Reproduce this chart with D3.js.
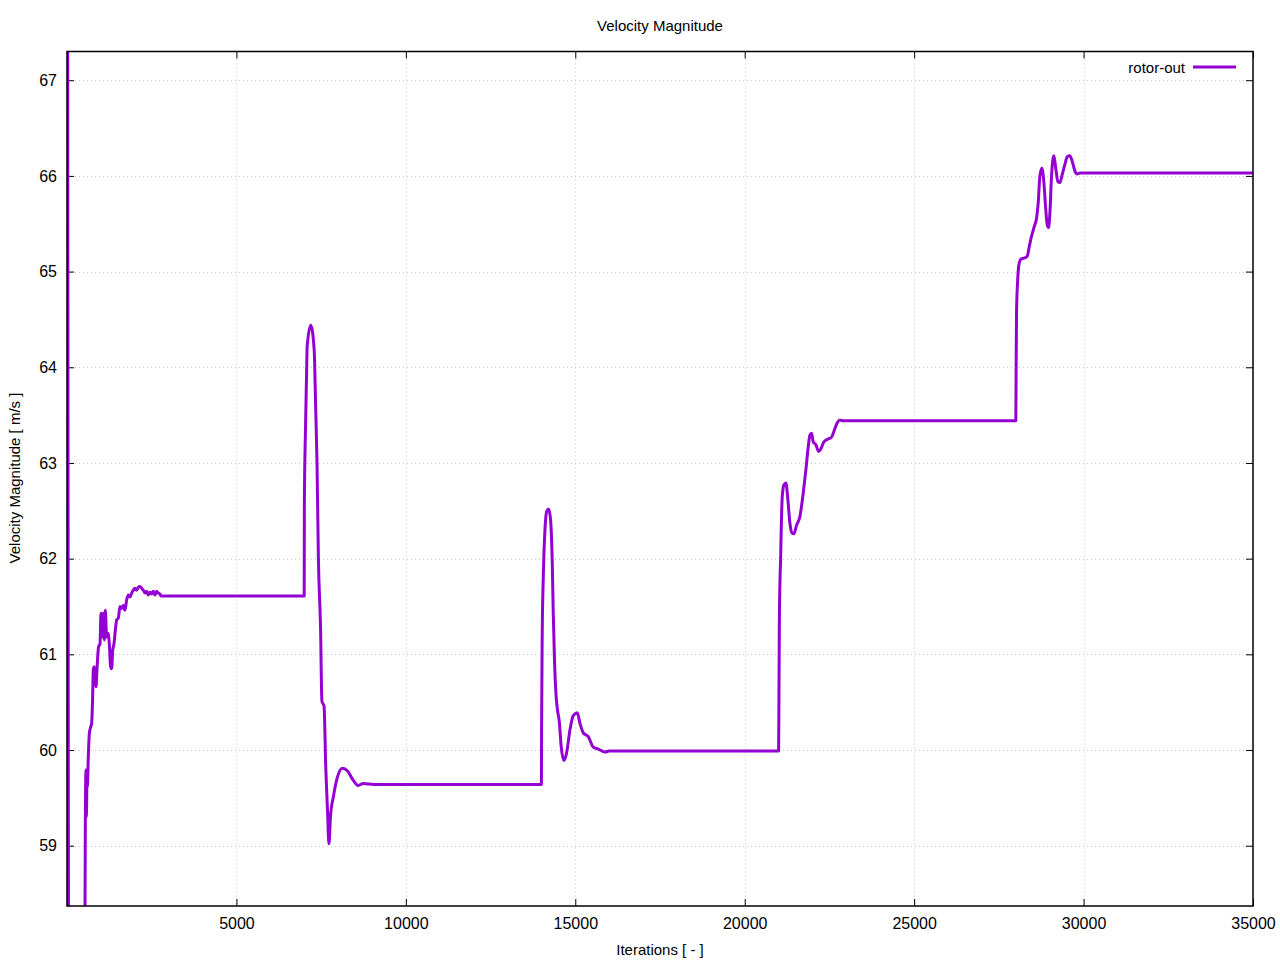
<!DOCTYPE html>
<html>
<head>
<meta charset="utf-8">
<script src="https://cdn.jsdelivr.net/npm/d3@7"></script>
<style>
  body { margin: 0; background: #fff; }
  svg { display: block; font-family: "Liberation Sans", Arial, sans-serif; }
</style>
</head>
<body>
<svg id="chart" width="1280" height="960"></svg>
<script>
// ---- data ----
const title = "Velocity Magnitude";
const xLabel = "Iterations [ - ]";
const yLabel = "Velocity Magnitude [ m/s ]";
const seriesName = "rotor-out";
const xTicks = [5000, 10000, 15000, 20000, 25000, 30000, 35000];
const yTicks = [59, 60, 61, 62, 63, 64, 65, 66, 67];

const iterations = [
  1, 40, 60, 520, 531, 541, 561, 570, 580, 590, 600, 629, 659, 698, 728, 757, 777, 806, 836, 856, 885, 905,
  934, 974, 1003, 1033, 1072, 1102, 1131, 1170, 1210, 1249, 1288, 1318, 1348, 1387, 1426, 1466, 1515, 1564,
  1613, 1662, 1711, 1761, 1810, 1859, 1908, 1957, 2006, 2056, 2105, 2154, 2203, 2252, 2301, 2351, 2400,
  2449, 2498, 2547, 2597, 2646, 2695, 2744, 2774, 7000,
  7005, 7037, 7068, 7088, 7192, 7295, 7337, 7378, 7420, 7482, 7523, 7585, 7637, 7690, 7730, 7775, 7865,
  7968, 8125, 8279, 8435, 8589, 8745, 9055, 14000,
  14005, 14026, 14056, 14105, 14154, 14213, 14272, 14321, 14350, 14390, 14429, 14478, 14527, 14586, 14665,
  14744, 14842, 14940, 15058, 15137, 15235, 15383, 15530, 15678, 15875, 16000, 21000,
  21010, 21020, 21039, 21059, 21079, 21108, 21157, 21216, 21275, 21334, 21393, 21452, 21531, 21629, 21728,
  21806, 21875, 21924, 21974, 22022, 22101, 22180, 22249, 22337, 22465, 22563, 22662, 22731, 22810, 22900, 28000,
  28010, 28022, 28051, 28091, 28150, 28239, 28337, 28396, 28465, 28544, 28613, 28662, 28711, 28770, 28829,
  28878, 28928, 28967, 29006, 29055, 29124, 29183, 29242, 29301, 29360, 29449, 29518, 29596, 29675, 29744,
  29813, 29892, 35000
];
const velocity = [
  75, 59.3, 56, 56, 58.3, 59.23, 59.79, 59.3, 59.45, 59.8, 59.61, 59.93, 60.17, 60.24, 60.28, 60.56, 60.84, 60.87, 60.73, 60.66, 60.84, 60.97,
  61.08, 61.11, 61.43, 61.18, 61.43, 61.15, 61.46, 61.18, 61.22, 61.11, 60.87, 60.85, 61.04, 61.11, 61.25, 61.36, 61.38, 61.5,
  61.48, 61.51, 61.46, 61.57, 61.62, 61.6, 61.64, 61.67, 61.69, 61.67, 61.70, 61.71, 61.69, 61.67, 61.64, 61.66, 61.62,
  61.65, 61.63, 61.66, 61.62, 61.66, 61.64, 61.63, 61.61, 61.61,
  62.57, 63.34, 63.89, 64.22, 64.44, 64.18, 63.6, 63.0, 61.98, 61.29, 60.51, 60.46, 59.81, 59.35, 59.02, 59.3, 59.52,
  59.7, 59.81, 59.78, 59.69, 59.63, 59.65, 59.64, 59.64,
  60.2, 61.26, 61.81, 62.3, 62.49, 62.52, 62.4, 61.95, 61.43, 60.9, 60.59, 60.41, 60.3, 60.03, 59.89,
  59.97, 60.21, 60.36, 60.39, 60.28, 60.18, 60.14, 60.03, 60.01, 59.98, 59.99, 59.99,
  60.52, 61.22, 61.74, 61.99, 62.33, 62.65, 62.77, 62.79, 62.61, 62.37, 62.27, 62.26, 62.35, 62.44, 62.69,
  62.93, 63.17, 63.29, 63.31, 63.22, 63.19, 63.12, 63.15, 63.22, 63.25, 63.27, 63.36, 63.42, 63.45, 63.44, 63.44,
  64.01, 64.57, 64.88, 65.07, 65.13, 65.14, 65.16, 65.26, 65.37, 65.47, 65.56, 65.72, 66.0, 66.08, 65.93,
  65.68, 65.49, 65.46, 65.61, 66.0, 66.21, 66.07, 65.94, 65.93, 66.0, 66.12, 66.2, 66.21, 66.14, 66.05,
  66.02, 66.03, 66.03
];

// ---- layout ----
const pLeft = 67, pRight = 1253, pTop = 51.5, pBottom = 906;
const svg = d3.select("#chart");

const x = d3.scaleLinear().domain([0, 35000]).range([pLeft, pRight]);
const y = d3.scaleLinear().domain([58.37, 67.30]).range([pBottom, pTop]);

// grid
const grid = svg.append("g").attr("stroke", "#c8c8c8").attr("stroke-width", 1).attr("stroke-dasharray", "1,3");
grid.selectAll("line.gy").data(yTicks).enter().append("line")
  .attr("x1", pLeft).attr("x2", pRight)
  .attr("y1", d => Math.round(y(d)) + 0.5).attr("y2", d => Math.round(y(d)) + 0.5);
grid.selectAll("line.gx").data(xTicks.filter(d => d < 35000)).enter().append("line")
  .attr("y1", pTop).attr("y2", pBottom)
  .attr("x1", d => Math.round(x(d)) + 0.5).attr("x2", d => Math.round(x(d)) + 0.5);

// axes (inward ticks, mirrored)
const tickLen = 7;
const axB = d3.axisBottom(x).tickValues(xTicks).tickSize(-tickLen).tickPadding(12).tickFormat(d3.format("d"));
const axT = d3.axisTop(x).tickValues(xTicks).tickSize(-tickLen).tickFormat("");
const axL = d3.axisLeft(y).tickValues(yTicks).tickSize(-tickLen).tickPadding(10).tickFormat(d3.format("d"));
const axR = d3.axisRight(y).tickValues(yTicks).tickSize(-tickLen).tickFormat("");

function styleAxis(g) {
  g.select(".domain").remove();
  g.selectAll(".tick line").attr("stroke", "#000").attr("stroke-width", 1);
  g.selectAll("text").attr("font-size", 16).attr("fill", "#000").attr("font-family", "Liberation Sans, Arial, sans-serif");
}
svg.append("g").attr("transform", `translate(0,${pBottom})`).call(axB).call(styleAxis);
svg.append("g").attr("transform", `translate(0,${pTop})`).call(axT).call(styleAxis);
svg.append("g").attr("transform", `translate(${pLeft},0)`).call(axL).call(styleAxis);
svg.append("g").attr("transform", `translate(${pRight},0)`).call(axR).call(styleAxis);

// clip
svg.append("clipPath").attr("id", "plotclip").append("rect")
  .attr("x", pLeft).attr("y", pTop).attr("width", pRight - pLeft).attr("height", pBottom - pTop);

const data = iterations.map((it, i) => ({ x: it, y: velocity[i] }));
const line = d3.line().x(d => x(d.x)).y(d => y(d.y)).curve(d3.curveMonotoneX);
svg.append("path").datum(data)
  .attr("clip-path", "url(#plotclip)")
  .attr("fill", "none").attr("stroke", "#9400d3").attr("stroke-width", 3)
  .attr("stroke-linejoin", "round")
  .attr("d", line);

// frame
svg.append("rect").attr("x", pLeft).attr("y", pTop).attr("width", pRight - pLeft).attr("height", pBottom - pTop)
  .attr("fill", "none").attr("stroke", "#000").attr("stroke-width", 1.5);

// title and labels
svg.append("text").attr("x", 660).attr("y", 31).attr("text-anchor", "middle")
  .attr("font-size", 15).text(title);
svg.append("text").attr("x", 660).attr("y", 955).attr("text-anchor", "middle")
  .attr("font-size", 15).text(xLabel);
svg.append("text").attr("transform", "translate(20,478) rotate(-90)").attr("text-anchor", "middle")
  .attr("font-size", 15).text(yLabel);

// legend
svg.append("text").attr("x", 1185).attr("y", 73).attr("text-anchor", "end")
  .attr("font-size", 15).text(seriesName);
svg.append("line").attr("x1", 1193).attr("x2", 1236).attr("y1", 67).attr("y2", 67)
  .attr("stroke", "#9400d3").attr("stroke-width", 3);
</script>
</body>
</html>
